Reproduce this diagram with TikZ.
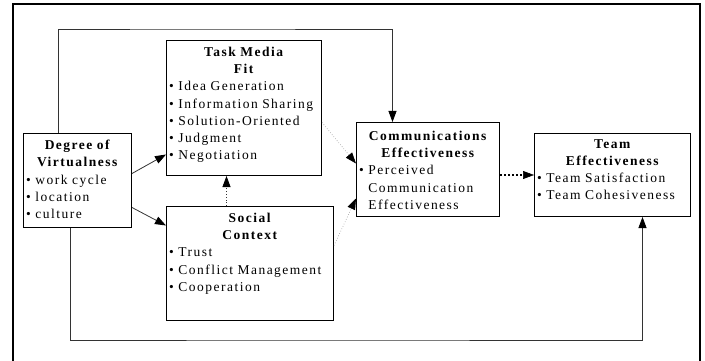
\documentclass[tikz,border=0pt]{standalone}
\usepackage{fontspec}
\setmainfont{Liberation Serif}[LetterSpace=11]
\usetikzlibrary{arrows.meta}

\tikzset{
  block/.style={draw, line width=1pt, anchor=north west, inner sep=0pt},
  blocktext/.style={anchor=north west, inner sep=0pt, align=left,
    font=\fontsize{13.5}{17.2}\selectfont},
  link/.style={draw=black!80, line width=0.8pt,
    -{Triangle[length=11pt,width=8pt,color=black]}},
  dotlink/.style={link, dotted},
  faintlink/.style={link, draw=black!45, line width=0.6pt, dotted},
  boldlink/.style={link, draw=black, line width=2pt, dotted,
    -{Triangle[length=11pt,width=8pt,color=black,line width=0.5pt]}}
}

\begin{document}
\begin{tikzpicture}[x=1pt, y=-1pt]
    \useasboundingbox (0,0) rectangle (705,361);

    % Frame
    \draw[line width=2pt] (13,361) -- (13,4) -- (700,4) -- (700,361);

    % Boxes
    \node[block, minimum width=108pt, minimum height=94pt] (virt) at (23,133) {};
    \node[block, minimum width=155pt, minimum height=135pt] (task) at (166,40) {};
    \node[block, minimum width=167pt, minimum height=114pt] (social) at (166,206) {};
    \node[block, minimum width=143pt, minimum height=94pt] (comm) at (356,122) {};
    \node[block, minimum width=156pt, minimum height=83pt] (team) at (534,133) {};

    % Box contents
    \node[blocktext, text width=102pt] (virtText) at ([xshift=3pt,yshift=-7pt]virt.north west)
        {{\centering\bfseries Degree of\\Virtualness\par}
         \textbullet~work cycle\\\textbullet~location\\\textbullet~culture};
    \node[blocktext, text width=149pt] (taskText) at ([xshift=3pt,yshift=-7pt]task.north west)
        {{\centering\bfseries Task Media\\Fit\par}
         \textbullet~Idea Generation\\\textbullet~Information Sharing\\
         \textbullet~Solution-Oriented\\\textbullet~Judgment\\\textbullet~Negotiation};
    \node[blocktext, text width=161pt] (socialText) at ([xshift=3pt,yshift=-7pt]social.north west)
        {{\centering\bfseries Social\\Context\par}
         \textbullet~Trust\\\textbullet~Conflict Management\\\textbullet~Cooperation};
    \node[blocktext, text width=137pt] (commText) at ([xshift=3pt,yshift=-9pt]comm.north west)
        {{\centering\bfseries Communications\\Effectiveness\par}
         \textbullet~Perceived\\\phantom{\textbullet~}Communication\\
         \phantom{\textbullet~}Effectiveness};
    \node[blocktext, text width=150pt] (teamText) at ([xshift=3pt,yshift=-6pt]team.north west)
        {{\centering\bfseries Team\\Effectiveness\par}
         \textbullet~Team Satisfaction\\\textbullet~Team Cohesiveness};

    % Corner points of the two long loops
    \coordinate (ring) at (200,29);
    \coordinate (floor) at (300,340);
    \coordinate (scTop) at ([xshift=-23.5pt]social.north);

    % Direct effects
    \draw[link] ([yshift=7pt]virt.east) -- ([yshift=-46.5pt]task.west);
    \draw[link] ([yshift=-27pt]virt.east) -- ([yshift=38pt]social.west);
    \draw[link] ([xshift=-19pt]virt.north) |- (ring) -| ([xshift=-35.5pt]comm.north);
    \draw[link] ([xshift=-7pt]virt.south) |- (floor) -| ([xshift=30pt]team.south);

    % Mediated effects
    \draw[dotlink] (scTop) -- (scTop |- task.south);
    \draw[faintlink] ([yshift=-14.5pt]task.east) -- ([yshift=6pt]comm.west);
    \draw[faintlink] ([yshift=18pt]social.east) -- ([yshift=-29pt]comm.west);
    \draw[boldlink] (team.west -| comm.east) -- (team.west);
\end{tikzpicture}
\end{document}
